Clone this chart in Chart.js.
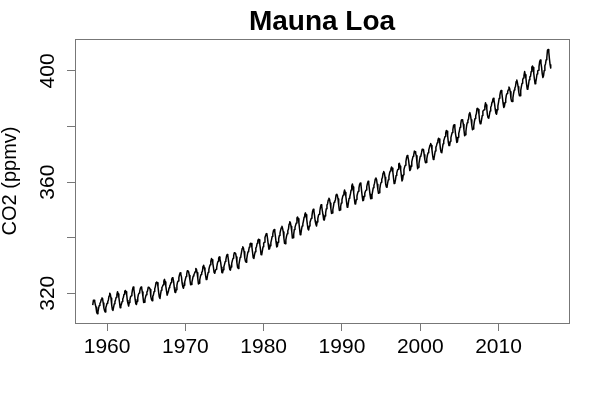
<!DOCTYPE html>
<html>
<head>
<meta charset="utf-8">
<title>Mauna Loa</title>
<script src="https://cdn.jsdelivr.net/npm/chart.js@4.4.0/dist/chart.umd.min.js"></script>
<style>
  html, body { margin: 0; padding: 0; background: #fff; }
</style>
</head>
<body>
<canvas id="co2Chart" width="600" height="398"></canvas>
<script>
// Mauna Loa monthly CO2 (ppmv), starting March 1958
const firstYear = 1958;
const firstMonth = 3;
const co2 = [
  315.71, 317.45, 317.50, 317.10, 315.86, 314.93, 313.20, 312.66, 313.33, 314.67,
  315.62, 316.38, 316.71, 317.72, 318.29, 318.15, 316.54, 314.80, 313.84, 313.26, 314.80, 315.58,
  316.43, 316.97, 317.58, 319.02, 320.03, 319.59, 318.18, 315.91, 314.16, 313.83, 315.00, 316.19,
  316.93, 317.70, 318.54, 319.48, 320.58, 319.77, 318.57, 316.79, 314.80, 315.38, 316.10, 317.01,
  317.94, 318.56, 319.68, 320.63, 321.01, 320.55, 319.58, 317.40, 316.26, 315.42, 316.69, 317.69,
  318.74, 319.08, 319.86, 321.39, 322.25, 321.47, 319.74, 317.77, 316.21, 315.99, 317.12, 318.31,
  319.57, 320.07, 320.73, 321.77, 322.25, 321.89, 320.44, 318.70, 316.70, 316.79, 317.79, 318.71,
  319.44, 320.44, 320.89, 322.13, 322.16, 321.87, 321.39, 318.81, 317.81, 317.30, 318.87, 319.42,
  320.62, 321.59, 322.39, 323.87, 324.01, 323.75, 322.39, 320.37, 318.64, 318.10, 319.79, 321.08,
  322.07, 322.50, 323.04, 324.42, 325.00, 324.09, 322.55, 320.92, 319.31, 319.31, 320.72, 321.96,
  322.57, 323.15, 323.89, 325.02, 325.57, 325.36, 324.14, 322.03, 320.41, 320.25, 321.31, 322.84,
  324.00, 324.42, 325.64, 326.66, 327.34, 326.76, 325.88, 323.67, 322.38, 321.78, 322.85, 324.11,
  325.03, 325.99, 326.87, 328.13, 328.07, 327.66, 326.35, 324.69, 323.10, 323.16, 323.98, 325.13,
  326.17, 326.68, 327.18, 327.78, 328.92, 328.57, 327.34, 325.46, 323.36, 323.57, 324.80, 326.01,
  326.77, 327.63, 327.75, 329.72, 330.07, 329.09, 328.05, 326.32, 324.93, 325.06, 326.50, 327.55,
  328.54, 329.56, 330.30, 331.50, 332.48, 332.07, 330.87, 329.31, 327.51, 327.18, 328.16, 328.64,
  329.35, 330.71, 331.48, 332.65, 333.09, 332.25, 331.18, 329.40, 327.43, 327.37, 328.46, 329.57,
  330.40, 331.40, 332.04, 333.31, 333.96, 333.59, 331.91, 330.06, 328.56, 328.34, 329.49, 330.76,
  331.75, 332.56, 333.50, 334.58, 334.57, 334.34, 333.05, 330.94, 329.30, 328.94, 330.31, 331.68,
  332.93, 333.42, 334.70, 336.07, 336.74, 336.27, 334.93, 332.75, 331.58, 331.16, 332.40, 333.85,
  334.97, 335.39, 336.64, 337.76, 338.01, 337.89, 336.54, 334.68, 332.76, 332.54, 333.92, 334.95,
  336.23, 336.76, 337.96, 338.89, 339.47, 339.29, 337.73, 336.09, 333.91, 333.86, 335.29, 336.73,
  338.01, 338.36, 340.08, 340.77, 341.46, 341.17, 339.56, 337.60, 335.88, 336.01, 337.10, 338.21,
  339.23, 340.47, 341.38, 342.51, 342.91, 342.25, 340.49, 338.43, 336.69, 336.85, 338.36, 339.61,
  340.75, 341.61, 342.70, 343.56, 344.13, 343.35, 342.06, 339.82, 337.97, 337.86, 339.26, 340.49,
  341.38, 342.52, 343.10, 344.94, 345.75, 345.32, 343.99, 342.39, 339.86, 339.99, 341.16, 342.99,
  343.70, 344.51, 345.28, 347.08, 347.43, 346.79, 345.40, 343.28, 341.07, 341.35, 342.98, 344.22,
  344.97, 346.00, 347.43, 348.35, 348.93, 348.25, 346.56, 344.67, 343.09, 342.80, 344.24, 345.56,
  346.29, 346.96, 347.86, 349.55, 350.21, 349.54, 347.94, 345.91, 344.86, 344.17, 345.66, 346.90,
  348.02, 348.47, 349.42, 350.99, 351.84, 351.25, 349.52, 348.10, 346.44, 346.36, 347.81, 348.96,
  350.43, 351.72, 352.22, 353.59, 354.22, 353.79, 352.39, 350.44, 348.72, 348.88, 350.07, 351.34,
  352.76, 353.07, 353.68, 355.42, 355.67, 355.13, 353.90, 351.67, 349.80, 349.99, 351.30, 352.52,
  353.66, 354.70, 355.39, 356.20, 357.16, 356.22, 354.82, 352.91, 350.96, 351.18, 352.83, 354.21,
  354.72, 355.75, 357.16, 358.60, 359.34, 358.24, 356.17, 354.03, 352.16, 352.21, 353.75, 354.99,
  355.98, 356.72, 357.81, 359.15, 359.66, 359.25, 357.02, 354.91, 353.30, 353.44, 354.89, 355.99,
  356.71, 357.16, 358.38, 359.46, 360.28, 359.60, 357.57, 355.52, 354.05, 354.08, 355.35, 356.71,
  357.99, 358.83, 359.63, 361.09, 361.51, 360.96, 359.26, 357.42, 355.99, 356.13, 357.57, 359.09,
  359.91, 361.01, 361.63, 363.24, 363.84, 363.30, 361.78, 359.33, 358.32, 358.14, 359.61, 360.82,
  362.08, 363.26, 364.03, 364.73, 365.42, 364.97, 363.65, 361.49, 359.46, 359.61, 360.77, 362.39,
  363.24, 364.21, 364.65, 366.49, 366.77, 365.73, 364.46, 362.40, 360.44, 360.98, 362.65, 364.51,
  365.39, 366.10, 367.36, 368.79, 369.56, 369.13, 367.98, 366.10, 364.16, 364.54, 365.67, 367.30,
  368.35, 369.28, 369.84, 371.15, 370.96, 370.30, 369.45, 366.90, 364.81, 365.37, 366.72, 368.10,
  369.29, 369.54, 370.60, 371.82, 371.58, 371.70, 369.86, 368.13, 367.00, 367.03, 368.37, 369.67,
  370.59, 371.51, 372.43, 373.37, 373.85, 373.21, 371.51, 369.61, 368.18, 368.45, 369.76, 371.24,
  372.53, 373.20, 374.12, 375.02, 375.76, 375.52, 374.01, 371.85, 370.75, 370.55, 372.25, 373.79,
  374.88, 375.64, 376.45, 377.73, 378.60, 378.28, 376.70, 374.38, 373.17, 373.14, 374.66, 375.99,
  377.00, 377.87, 378.88, 380.35, 380.62, 379.69, 377.47, 376.01, 374.25, 374.46, 376.16, 377.51,
  378.46, 379.73, 380.77, 382.29, 382.45, 382.21, 380.74, 378.74, 376.70, 377.00, 378.35, 380.11,
  381.38, 382.19, 382.67, 384.61, 385.03, 384.05, 382.46, 380.41, 378.85, 379.13, 380.15, 381.82,
  382.89, 383.90, 384.58, 386.50, 386.56, 386.10, 384.50, 381.99, 380.96, 381.12, 382.45, 383.95,
  385.52, 385.82, 386.03, 387.21, 388.54, 387.76, 386.36, 384.09, 383.18, 382.99, 384.19, 385.56,
  386.94, 387.48, 388.82, 389.55, 390.14, 389.48, 388.03, 386.11, 384.74, 384.43, 386.02, 387.42,
  388.71, 390.20, 391.17, 392.46, 393.00, 392.15, 390.20, 388.35, 386.85, 387.24, 388.67, 389.79,
  391.33, 391.86, 392.60, 393.25, 394.19, 393.74, 392.51, 390.13, 389.08, 389.00, 390.28, 391.86,
  393.12, 393.86, 394.40, 396.18, 396.74, 395.71, 394.36, 392.39, 391.11, 391.05, 392.98, 394.34,
  395.55, 396.80, 397.43, 398.41, 399.78, 398.61, 397.32, 395.20, 393.45, 393.70, 395.16, 396.84,
  397.85, 398.01, 399.77, 401.38, 401.78, 401.25, 399.10, 397.03, 395.38, 396.03, 397.28, 398.91,
  399.98, 400.28, 401.54, 403.28, 403.96, 402.80, 401.31, 398.93, 397.63, 398.29, 400.16, 401.85,
  402.52, 404.04, 404.83, 407.42, 407.70, 406.81, 404.39, 402.25, 401.03
];

const xTicks = [1960, 1970, 1980, 1990, 2000, 2010];
const yTicks = [320, 340, 360, 380, 400];
const yLabels = [320, 360, 400];

const fontFamily = '"Liberation Sans", Arial, sans-serif';
const axisGray = '#777';

// monthly time like R's ts(): year + (month - 1) / 12
const points = co2.map((v, i) => ({ x: firstYear + (firstMonth - 1 + i) / 12, y: v }));

// box round the plot region
const plotBox = {
  id: 'plotBox',
  afterDraw(chart) {
    const { ctx, chartArea: a } = chart;
    ctx.save();
    ctx.strokeStyle = axisGray;
    ctx.lineWidth = 1;
    ctx.strokeRect(Math.round(a.left) + 0.5, Math.round(a.top) + 0.5,
      Math.round(a.right - a.left), Math.round(a.bottom - a.top));
    ctx.restore();
  }
};

// y labels drawn parallel to the axis, like R does
const yTickLabels = {
  id: 'yTickLabels',
  afterDraw(chart) {
    const { ctx } = chart;
    const y = chart.scales.y;
    ctx.save();
    ctx.font = '21px ' + fontFamily;
    ctx.fillStyle = '#000';
    ctx.textAlign = 'center';
    ctx.textBaseline = 'alphabetic';
    yLabels.forEach(v => {
      ctx.save();
      ctx.translate(y.right - 21, y.getPixelForValue(v));
      ctx.rotate(-Math.PI / 2);
      ctx.fillText(String(v), 0, 0);
      ctx.restore();
    });
    ctx.restore();
  }
};

const ctx = document.getElementById('co2Chart').getContext('2d');
const co2Chart = new Chart(ctx, {
  type: 'line',
  data: {
    datasets: [{
      label: 'CO2',
      data: points,
      borderColor: '#000',
      borderWidth: 1.5,
      borderJoinStyle: 'round',
      pointRadius: 0,
      fill: false,
      tension: 0
    }]
  },
  options: {
    responsive: false,
    animation: false,
    layout: { padding: { left: 0, right: 31, top: 0, bottom: 0 } },
    plugins: {
      legend: { display: false },
      tooltip: { enabled: false },
      title: {
        display: true,
        text: 'Mauna Loa',
        fullSize: false,
        color: '#000',
        font: { family: fontFamily, size: 28, weight: 'bold', lineHeight: 1.2 },
        padding: { top: 5, bottom: 0.4 }
      }
    },
    scales: {
      x: {
        type: 'linear',
        min: 1955.9,
        max: 2019.0,
        afterBuildTicks: s => { s.ticks = xTicks.map(v => ({ value: v })); },
        afterFit: s => { s.height = 75; },
        border: { display: false },
        grid: { drawOnChartArea: false, drawTicks: true, tickLength: 8, color: axisGray },
        ticks: {
          color: '#000',
          font: { family: fontFamily, size: 21 },
          padding: 4,
          maxRotation: 0,
          autoSkip: false,
          callback: v => String(v)
        }
      },
      y: {
        type: 'linear',
        min: 309.3,
        max: 411.5,
        afterBuildTicks: s => { s.ticks = yTicks.map(v => ({ value: v })); },
        afterFit: s => { s.width = 75; },
        border: { display: false },
        grid: { drawOnChartArea: false, drawTicks: true, tickLength: 8, color: axisGray },
        ticks: { display: false },
        title: {
          display: true,
          text: 'CO2 (ppmv)',
          color: '#000',
          font: { family: fontFamily, size: 20, lineHeight: 1 },
          padding: { top: 0, bottom: 0 }
        }
      }
    }
  },
  plugins: [plotBox, yTickLabels]
});
</script>
</body>
</html>
